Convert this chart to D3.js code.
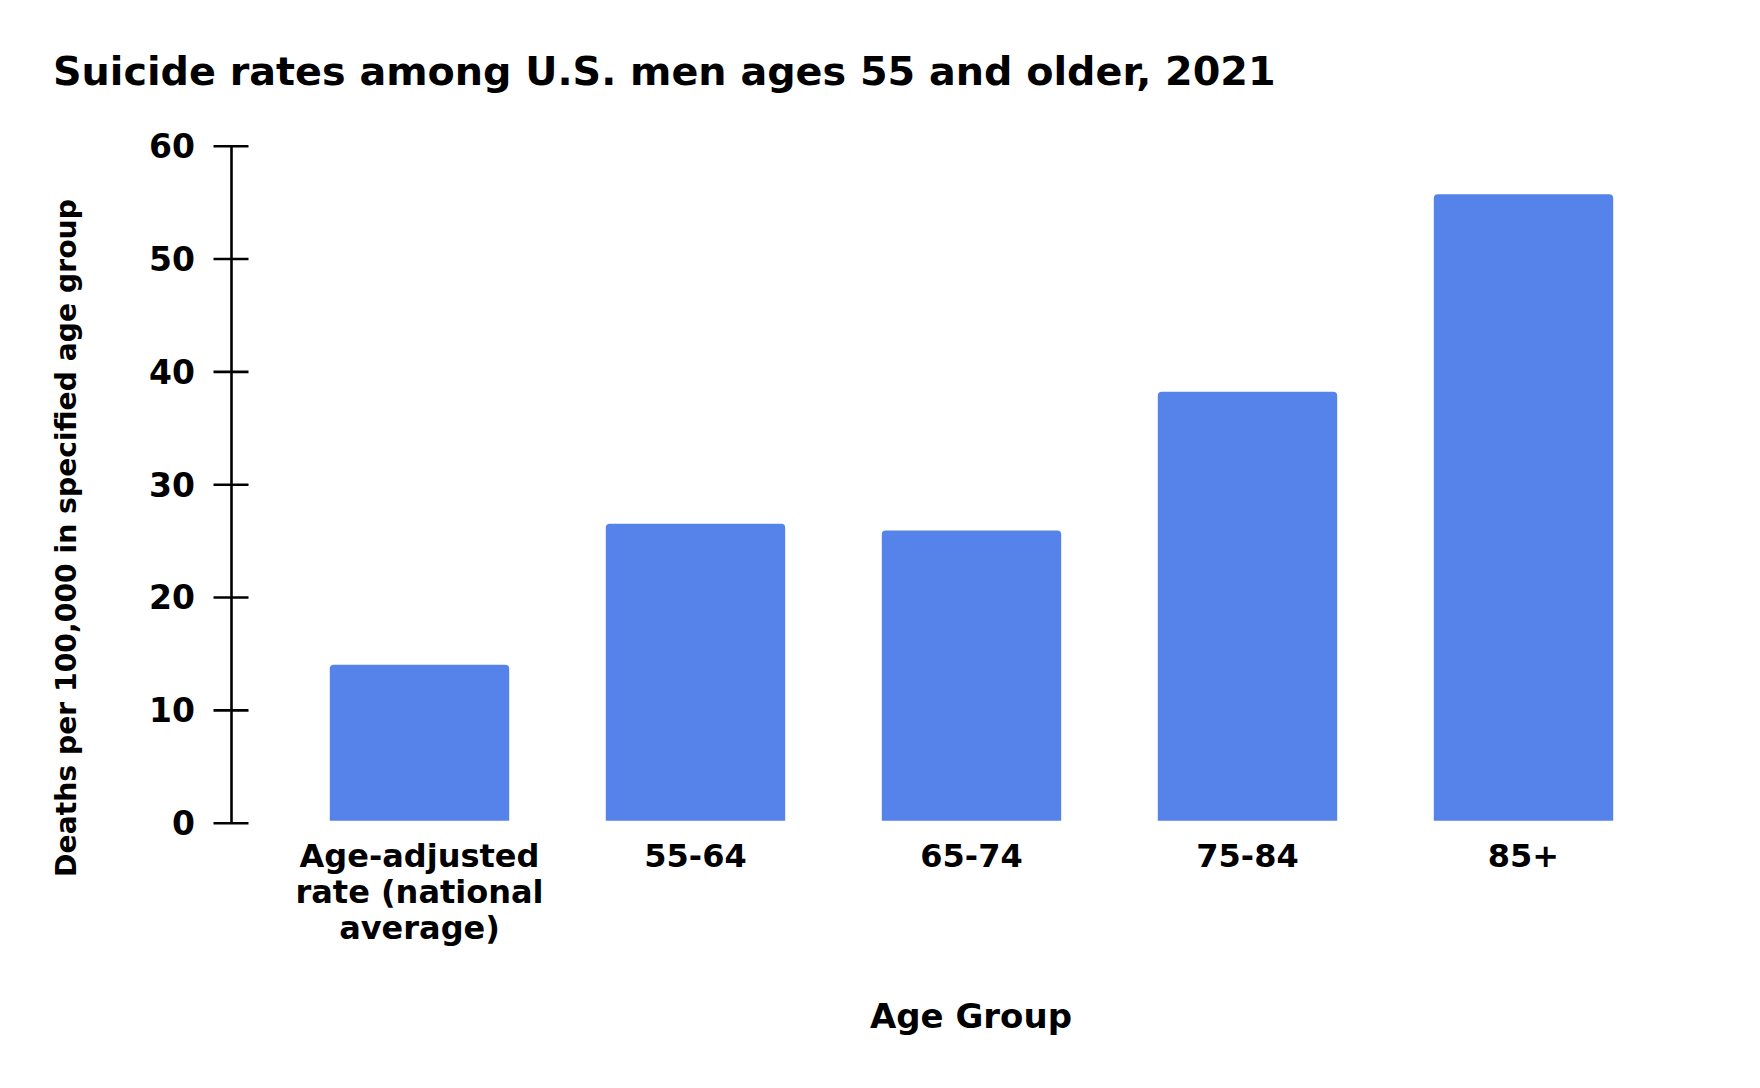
<!DOCTYPE html>
<html>
<head>
<meta charset="utf-8">
<script src="https://cdn.jsdelivr.net/npm/d3@7"></script>
<style>
  body { margin: 0; background: #fff; }
  text { font-family: "DejaVu Sans", sans-serif; font-weight: bold; fill: #000; }
</style>
</head>
<body>
<svg id="chart" width="1760" height="1088"></svg>
<script>
const categories = [
  ['Age-adjusted', 'rate (national', 'average)'],
  ['55-64'],
  ['65-74'],
  ['75-84'],
  ['85+']
];
const rates = [14.0, 26.5, 25.9, 38.2, 55.7];
const yTicks = [0, 10, 20, 30, 40, 50, 60];

const width = 1760, height = 1088;
const axisX = 231, plotTop = 145.7, plotBottom = 822.7;
const barColor = '#5683e9';

const svg = d3.select('#chart');

// shrink/grow text so it spans a given width
const fit = (sel, target) => {
    const w = sel.node().getComputedTextLength();
    const fs = parseFloat(sel.attr('font-size'));
    sel.attr('font-size', fs * target / w);
};

const keys = categories.map((d, i) => i);
const x = d3.scaleBand()
    .domain(keys)
    .range([281.5, 1661.5])
    .paddingInner(0.35)
    .paddingOuter(0.175);

const y = d3.scaleLinear()
    .domain([0, 60])
    .range([plotBottom, plotTop]);

// title
const title = svg.append('text')
    .attr('x', 53)
    .attr('y', 85)
    .attr('font-size', 41)
    .text('Suicide rates among U.S. men ages 55 and older, 2021');
fit(title, 1223);

// bars with slightly rounded tops
const r = 4;
const barPath = (d, i) => {
    const x0 = x(i), x1 = x(i) + x.bandwidth();
    const yt = y(d), yb = y(0) - 2;
    return `M${x0},${yb}V${yt + r}Q${x0},${yt} ${x0 + r},${yt}H${x1 - r}Q${x1},${yt} ${x1},${yt + r}V${yb}Z`;
};
svg.append('g')
    .selectAll('path')
    .data(rates)
    .enter()
    .append('path')
    .attr('d', barPath)
    .attr('fill', barColor);

// y axis
const yAxis = svg.append('g')
    .attr('transform', `translate(${axisX},0)`)
    .call(d3.axisLeft(y).tickValues(yTicks).tickSizeOuter(0).tickSizeInner(17.5).tickPadding(0));
yAxis.select('.domain')
    .attr('stroke', '#000')
    .attr('stroke-width', 2.6);
yAxis.selectAll('.tick line')
    .attr('x1', -17.5)
    .attr('x2', 17.5)
    .attr('stroke', '#000')
    .attr('stroke-width', 2.6);
yAxis.selectAll('.tick text')
    .attr('x', -36)
    .attr('dy', '0.36em')
    .attr('font-family', null)
    .attr('font-size', 33)
    .style('font-family', '"DejaVu Sans", sans-serif')
    .style('font-weight', 'bold');

// x labels
const xAxis = svg.append('g')
    .attr('transform', `translate(0,${plotBottom})`)
    .call(d3.axisBottom(x).tickSize(0).tickFormat(() => ''));
xAxis.select('.domain').remove();
xAxis.selectAll('.tick text').remove();
xAxis.selectAll('.tick')
    .append('text')
    .attr('text-anchor', 'middle')
    .attr('font-size', 32)
    .selectAll('tspan')
    .data(i => categories[i])
    .enter()
    .append('tspan')
    .attr('x', 0)
    .attr('y', (d, j) => 44 + j * 36)
    .text(d => d);

// axis titles
const yTitle = svg.append('text')
    .attr('transform', 'translate(66,538) rotate(-90)')
    .attr('text-anchor', 'middle')
    .attr('dy', '0.35em')
    .attr('font-size', 24)
    .text('Deaths per 100,000 in specified age group');
fit(yTitle, 678);

const xTitle = svg.append('text')
    .attr('x', 971)
    .attr('y', 1028)
    .attr('text-anchor', 'middle')
    .attr('font-size', 33)
    .text('Age Group');
fit(xTitle, 202);
</script>
</body>
</html>
